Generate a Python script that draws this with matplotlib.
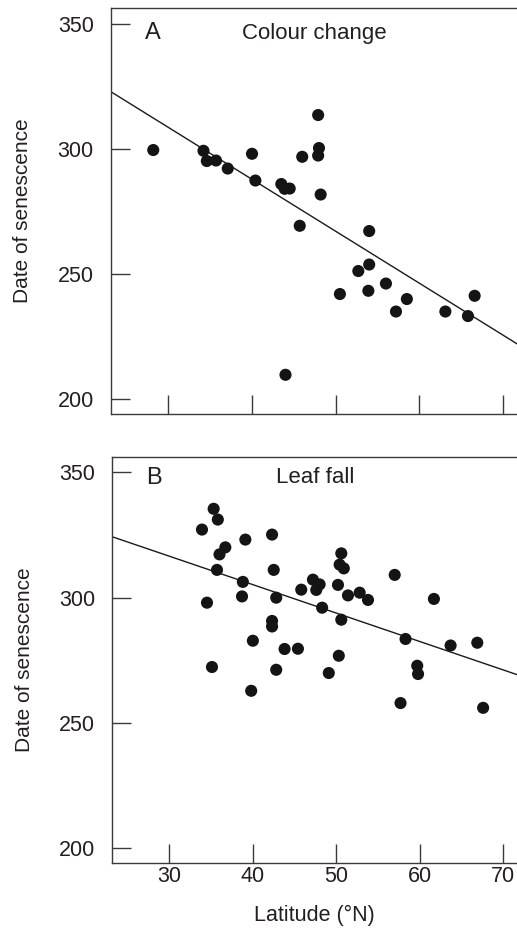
import matplotlib
matplotlib.use("Agg")
import matplotlib.pyplot as plt
import numpy as np

plt.rcParams['font.family'] = ['Liberation Sans', 'DejaVu Sans']

# panel A: colour change
lat_a = [28.2, 34.2, 34.6, 35.7, 37.1, 40.0, 40.4, 43.5, 43.9, 44.5,
         45.7, 46.0, 47.9, 48.0, 47.9, 48.2, 44.0, 50.5, 52.7, 54.0,
         54.0, 53.9, 56.0, 57.2, 58.5, 63.1, 65.8, 66.6]
date_a = [299.5, 299.2, 295.1, 295.3, 292.1, 298.0, 287.3, 285.9, 284.0, 284.1,
          269.2, 296.8, 313.5, 300.3, 297.3, 281.7, 209.6, 241.9, 251.1, 267.1,
          253.7, 243.2, 246.1, 234.9, 239.9, 234.9, 233.1, 241.2]
fit_a = (370.9, -2.078)   # intercept, slope

# panel B: leaf fall
lat_b = [35.3, 35.8, 33.9, 39.1, 42.3, 36.7, 36.0, 35.7, 42.5, 50.6,
         50.4, 50.9, 38.8, 38.7, 34.5, 42.8, 47.2, 48.0, 47.6, 45.8,
         50.2, 51.4, 52.8, 53.8, 57.0, 61.7, 48.3, 50.6, 42.3, 42.3,
         40.0, 43.8, 45.4, 50.3, 35.1, 42.8, 49.1, 39.8, 58.3, 59.7,
         59.8, 63.7, 66.9, 57.7, 67.6]
date_b = [335.5, 331.2, 327.2, 323.2, 325.2, 320.1, 317.3, 311.1, 311.1, 317.7,
          313.2, 311.7, 306.3, 300.5, 298.0, 300.0, 307.2, 305.3, 303.1, 303.2,
          305.1, 300.9, 302.0, 299.1, 309.1, 299.5, 296.0, 291.2, 290.7, 288.5,
          282.8, 279.5, 279.6, 276.8, 272.3, 271.2, 269.9, 262.8, 283.5, 272.8,
          269.5, 280.9, 282.0, 257.9, 256.0]
fit_b = (350.6, -1.135)

xticks = [30, 40, 50, 60, 70]
yticks = [200, 250, 300, 350]
xlim = (23.15, 71.66)
ylim = (193.9, 356.3)

txt = '#231f20'

fig = plt.figure(figsize=(5.17, 9.34), dpi=100)
ax1 = fig.add_axes([0.2147, 0.5567, 0.7853, 0.4347])
ax2 = fig.add_axes([0.2172, 0.0757, 0.7828, 0.4353])


def style(ax, show_x):
    ax.set_xlim(*xlim)
    ax.set_ylim(*ylim)
    ax.set_xticks(xticks)
    ax.set_yticks(yticks)
    ax.spines['right'].set_visible(False)
    for s in ['left', 'top', 'bottom']:
        ax.spines[s].set_color('#3a3a3a')
        ax.spines[s].set_linewidth(1.0)
    ax.tick_params(axis='both', direction='in', length=13.5, width=1.0,
                   color='#3a3a3a', labelcolor=txt, labelsize=15.5)
    ax.tick_params(axis='y', pad=12.5)
    ax.tick_params(axis='x', pad=2, labelbottom=show_x)
    ax.set_ylabel('Date of senescence', fontsize=15, color=txt, labelpad=18)


def panel(ax, lat, date, fit, letter, title, tx, ty, show_x):
    ax.scatter(lat, date, s=76, color='#141414', edgecolors='none', zorder=3)
    xs = np.array(xlim)
    ax.plot(xs, fit[0] + fit[1] * xs, color='#1a1a1a', lw=1.0, zorder=2)
    ax.text(0.083, ty, letter, transform=ax.transAxes, fontsize=17,
            color=txt, va='center', ha='left')
    ax.text(tx, ty, title, transform=ax.transAxes, fontsize=16,
            color=txt, va='center', ha='left')
    style(ax, show_x)


panel(ax1, lat_a, date_a, fit_a, 'A', 'Colour change', 0.323, 0.938, False)
panel(ax2, lat_b, date_b, fit_b, 'B', 'Leaf fall', 0.404, 0.948, True)
ax2.set_xlabel('Latitude (°N)', fontsize=15.5, color=txt, labelpad=13)

fig.savefig('out.png', dpi=100)
